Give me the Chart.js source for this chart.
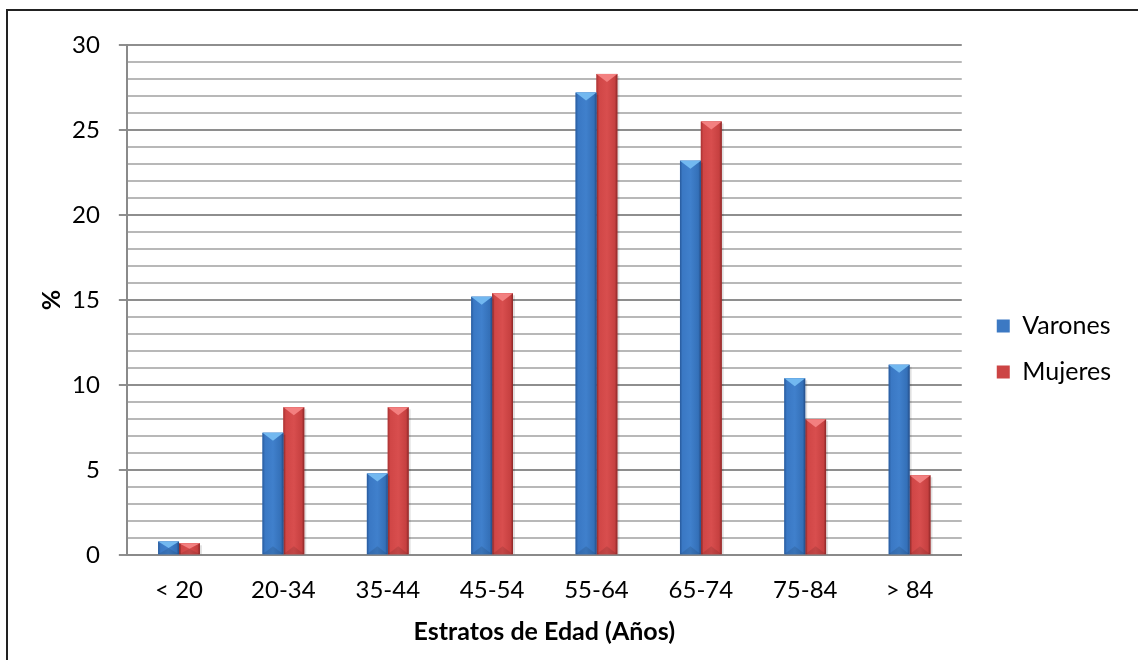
<!DOCTYPE html>
<html>
<head>
<meta charset="utf-8">
<script src="https://cdn.jsdelivr.net/npm/chart.js@4"></script>
<style>
  html, body { margin: 0; padding: 0; background: #fff; }
  #wrap { position: relative; width: 1138px; height: 660px; }
  #frame { position: absolute; left: 6px; top: 9px; right: -4px; bottom: -4px; border-left: 2px solid #222; border-top: 2px solid #222; box-sizing: border-box; pointer-events: none; }
  canvas { display: block; }
</style>
</head>
<body>
<div id="wrap">
  <canvas id="c" width="1138" height="660"></canvas>
  <div id="frame"></div>
</div>
<script>
const categories = ['< 20', '20-34', '35-44', '45-54', '55-64', '65-74', '75-84', '> 84'];
const varones = [0.8, 7.2, 4.8, 15.2, 27.2, 23.2, 10.4, 11.2];
const mujeres = [0.7, 8.7, 8.7, 15.4, 28.3, 25.5, 8.0, 4.7];
const yMin = 0, yMax = 30, yMajorStep = 5, yMinorStep = 1;
const xTitle = 'Estratos de Edad (Años)';
const yTitle = '%';

const palettes = [
  { stops: ['#285a9c', '#3a78c4', '#4080cc', '#3470b8', '#244c86'], top: '#72b8f0', legend: '#3c79c3' },
  { stops: ['#a83232', '#d04646', '#d84e4e', '#c64040', '#8a2626'], top: '#f38080', legend: '#cc4444' }
];
const stopPos = [0, 0.12, 0.5, 0.88, 1];

const bevelPlugin = {
  id: 'bevel',
  afterLayout(chart) {
    const lg = chart.legend;
    if (lg) {
      const dx = 14, dy = 3;
      lg.left += dx; lg.right += dx;
      lg.top += dy; lg.bottom += dy;
    }
  },
  afterDatasetDraw(chart, args) {
    const ctx = chart.ctx;
    const pal = palettes[args.index];
    args.meta.data.forEach(el => {
      const left = el.x - el.width / 2, right = el.x + el.width / 2;
      const top = Math.min(el.y, el.base), bottom = Math.max(el.y, el.base);
      const h = Math.min(8, (bottom - top) / 2);
      ctx.save();
      ctx.fillStyle = 'rgba(0,0,0,0.12)';
      ctx.fillRect(right, top + 2, 2, bottom - top - 2);
      const g = ctx.createLinearGradient(left, 0, right, 0);
      pal.stops.forEach((c, i) => g.addColorStop(stopPos[i], c));
      ctx.fillStyle = g;
      ctx.fillRect(left, top, right - left, bottom - top);
      ctx.fillStyle = pal.top;
      ctx.beginPath();
      ctx.moveTo(left, top);
      ctx.lineTo(right, top);
      ctx.lineTo(el.x, top + h);
      ctx.closePath();
      ctx.fill();
      ctx.fillStyle = 'rgba(0,0,0,0.10)';
      ctx.beginPath();
      ctx.moveTo(left, bottom);
      ctx.lineTo(right, bottom);
      ctx.lineTo(el.x, bottom - h);
      ctx.closePath();
      ctx.fill();
      ctx.restore();
    });
  }
};

new Chart(document.getElementById('c'), {
  type: 'bar',
  data: {
    labels: categories,
    datasets: [
      { label: 'Varones', data: varones, backgroundColor: palettes[0].legend, borderWidth: 0 },
      { label: 'Mujeres', data: mujeres, backgroundColor: palettes[1].legend, borderWidth: 0 }
    ]
  },
  plugins: [bevelPlugin],
  options: {
    responsive: false,
    animation: false,
    devicePixelRatio: 1,
    categoryPercentage: 0.4,
    barPercentage: 1.0,
    layout: { padding: { left: 37, right: 31, top: 45, bottom: 13 } },
    plugins: {
      tooltip: { enabled: false },
      legend: {
        position: 'right',
        labels: {
          font: { family: 'Lato', size: 25 },
          color: '#000',
          boxWidth: 13,
          boxHeight: 13,
          padding: 21
        }
      }
    },
    scales: {
      x: {
        grid: { display: false, drawTicks: false },
        border: { display: true, color: '#8a8a8a', width: 2 },
        ticks: { font: { family: 'Lato', size: 24 }, color: '#000', padding: 21 },
        title: { display: true, text: xTitle, font: { family: 'Lato', size: 25, weight: 'bold' }, color: '#000', padding: { top: -9, bottom: 0 } }
      },
      y: {
        min: yMin, max: yMax,
        border: { display: true, color: '#8a8a8a', width: 2 },
        grid: {
          color: ctx => (ctx.tick && ctx.tick.value % yMajorStep === 0) ? '#8e8e8e' : '#b8b8b8',
          lineWidth: 2,
          tickLength: 8,
          tickColor: ctx => (ctx.tick && ctx.tick.value % yMajorStep === 0) ? '#8e8e8e' : 'rgba(0,0,0,0)'
        },
        ticks: {
          stepSize: yMinorStep,
          autoSkip: false,
          font: { family: 'Lato', size: 24 },
          color: '#000',
          padding: 19,
          callback: v => (v % yMajorStep === 0) ? String(v) : ''
        },
        title: { display: true, text: yTitle, font: { family: 'Lato', size: 25, weight: 'bold' }, color: '#000', padding: { top: 0, bottom: -14 } }
      }
    }
  }
});
</script>
</body>
</html>
